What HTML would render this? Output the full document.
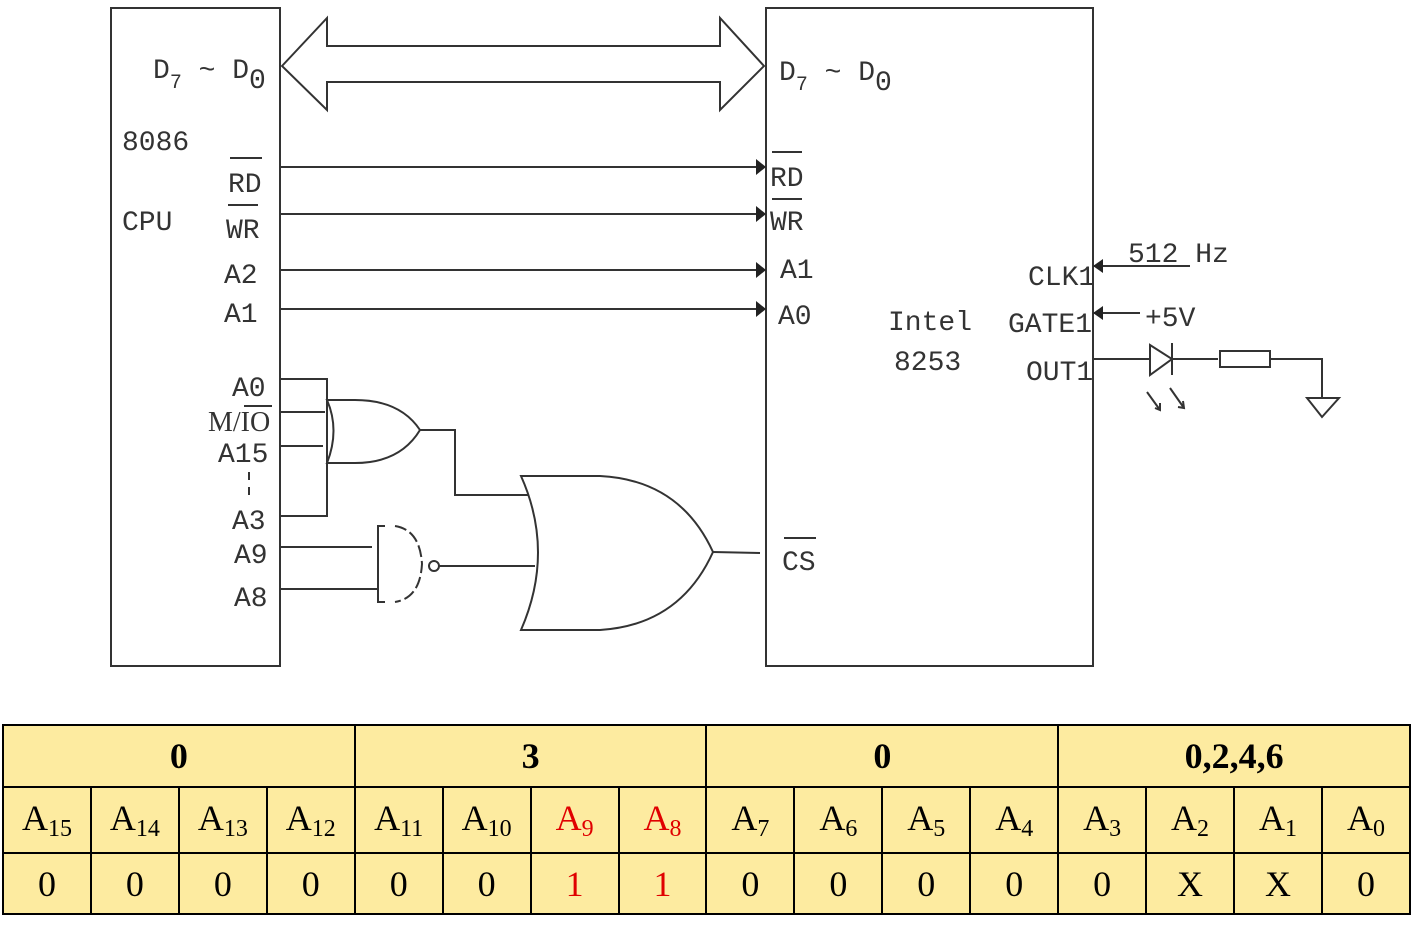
<!DOCTYPE html>
<html><head><meta charset="utf-8"><style>
body{margin:0;background:#fff;width:1411px;height:933px;overflow:hidden;position:relative}
svg text{font-family:"Liberation Mono",monospace;fill:#333;font-size:28px}
table{position:absolute;left:2px;top:724px;border-collapse:collapse;font-family:"Liberation Serif",serif;background:#fdeba0}
td{border:2px solid #000;text-align:center;padding:0;color:#000}
.h td{height:60px;font-weight:bold;font-size:36px}
.a td{height:64px;font-size:36px;width:84px}
.v td{height:59px;font-size:36px}
sub{font-size:24px;vertical-align:-6px}
.r{color:#e00000}
</style></head><body>
<svg width="1411" height="720" style="position:absolute;left:0;top:0">
<g fill="none" stroke="#333" stroke-width="2">
<rect x="111" y="8" width="169" height="658"/>
<rect x="766" y="8" width="327" height="658"/>
<path d="M282,66 L327,18 L327,46 L720,46 L720,18 L764,66 L720,110 L720,82 L327,82 L327,110 Z"/>
<line x1="280" y1="167" x2="760" y2="167"/>
<line x1="280" y1="214" x2="760" y2="214"/>
<line x1="280" y1="270" x2="760" y2="270"/>
<line x1="280" y1="309" x2="760" y2="309"/>
<path d="M280,379 H327 V516 H280"/>
<line x1="280" y1="412" x2="325" y2="412"/>
<line x1="280" y1="446" x2="323" y2="446"/>
<path d="M327,400 H355 Q400,400 420,430 Q400,463 355,463 H327 Q340,430 327,400 Z"/>
<path d="M420,430 H455 V495 H528"/>
<path d="M521,476 H600 Q680,480 713,552 Q680,625 600,630 H521 Q555,552 521,476 Z"/>
<line x1="713" y1="552" x2="760" y2="553"/>
<line x1="280" y1="547" x2="372" y2="547"/>
<line x1="280" y1="589" x2="378" y2="589"/>
<path d="M385,526 H378 V602 H385"/>
<path d="M395,526 Q420,530 422,564 Q420,598 395,602" stroke-dasharray="12,4"/>
<circle cx="434" cy="566" r="5"/>
<line x1="439" y1="566" x2="535" y2="566"/>
<line x1="1093" y1="266" x2="1190" y2="266"/>
<line x1="1093" y1="313" x2="1140" y2="313"/>
<line x1="1093" y1="359" x2="1150" y2="359"/>
<path d="M1150,345 L1172,359 L1150,375 Z"/>
<line x1="1172" y1="343" x2="1172" y2="375"/>
<line x1="1172" y1="359" x2="1218" y2="359"/>
<rect x="1220" y="351" width="50" height="16"/>
<path d="M1270,359 H1322 V398"/>
<path d="M1307,398 H1339 L1322,417 Z"/>
<path d="M1147,392 L1160,410 M1155,408 L1160,410 L1160,403 M1170,388 L1184,408 M1178,407 L1184,408 L1183,401"/>
<line x1="230" y1="158" x2="262" y2="158"/>
<line x1="228" y1="205" x2="258" y2="205"/>
<line x1="772" y1="152" x2="802" y2="152"/>
<line x1="772" y1="199" x2="802" y2="199"/>
<line x1="784" y1="538" x2="816" y2="538"/>
<line x1="244" y1="406" x2="272" y2="406"/>
<line x1="249" y1="472" x2="249" y2="480"/><line x1="249" y1="487" x2="249" y2="495"/>
</g>
<g fill="#222">
<path d="M766,167 l-10,-8 v16z"/><path d="M766,214 l-10,-8 v16z"/>
<path d="M766,270 l-10,-8 v16z"/><path d="M766,309 l-10,-8 v16z"/>
<path d="M1093,266 l10,-7 v14z"/><path d="M1093,313 l10,-7 v14z"/>
</g>
<text x="153" y="78">D<tspan font-size="20" dy="10">7</tspan><tspan dy="-10"> ~ D</tspan><tspan dy="10">0</tspan></text>
<text x="779" y="80">D<tspan font-size="20" dy="10">7</tspan><tspan dy="-10"> ~ D</tspan><tspan dy="10">0</tspan></text>
<text x="122" y="150">8086</text><text x="122" y="230">CPU</text>
<text x="228" y="192">RD</text><text x="226" y="238">WR</text>
<text x="224" y="283">A2</text><text x="224" y="322">A1</text>
<text x="232" y="396">A0</text><text x="208" y="431" style="font-family:'Liberation Serif',serif">M/IO</text>
<text x="218" y="462">A15</text><text x="232" y="529">A3</text>
<text x="234" y="563">A9</text><text x="234" y="606">A8</text>
<text x="770" y="186">RD</text><text x="770" y="230">WR</text>
<text x="780" y="278">A1</text><text x="778" y="324">A0</text>
<text x="888" y="330">Intel</text><text x="894" y="370">8253</text>
<text x="1028" y="285">CLK1</text><text x="1008" y="332">GATE1</text><text x="1026" y="380">OUT1</text>
<text x="1128" y="262">512 Hz</text><text x="1145" y="326">+5V</text>
<text x="782" y="570">CS</text>
</svg>
<table>
<tr class="h"><td colspan="4" style="width:350px">0</td><td colspan="4" style="width:350px">3</td><td colspan="4" style="width:350px">0</td><td colspan="4" style="width:350px">0,2,4,6</td></tr>
<tr class="a"><td>A<sub>15</sub></td><td>A<sub>14</sub></td><td>A<sub>13</sub></td><td>A<sub>12</sub></td><td>A<sub>11</sub></td><td>A<sub>10</sub></td><td class="r">A<sub>9</sub></td><td class="r">A<sub>8</sub></td><td>A<sub>7</sub></td><td>A<sub>6</sub></td><td>A<sub>5</sub></td><td>A<sub>4</sub></td><td>A<sub>3</sub></td><td>A<sub>2</sub></td><td>A<sub>1</sub></td><td>A<sub>0</sub></td></tr>
<tr class="v"><td>0</td><td>0</td><td>0</td><td>0</td><td>0</td><td>0</td><td class="r">1</td><td class="r">1</td><td>0</td><td>0</td><td>0</td><td>0</td><td>0</td><td>X</td><td>X</td><td>0</td></tr>
</table>
</body></html>
